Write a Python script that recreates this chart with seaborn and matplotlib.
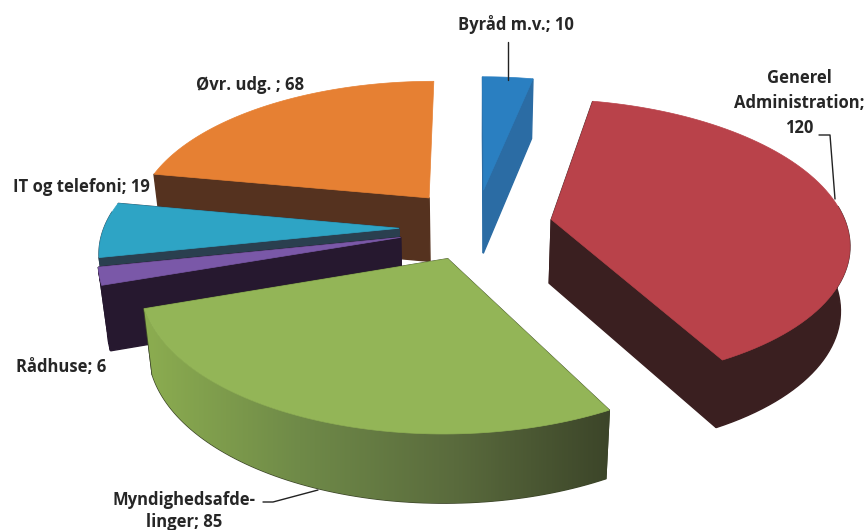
import numpy as np
import seaborn as sns
import matplotlib.pyplot as plt
from matplotlib.colors import LinearSegmentedColormap
from matplotlib.patches import Polygon

sns.set_theme(style='white')
plt.rcParams['font.family'] = ['Open Sans', 'DejaVu Sans']

# budget shares, clockwise from the top of the pie
names = ['Byråd m.v.', 'Generel Administration', 'Myndighedsafdelinger',
         'Rådhuse', 'IT og telefoni', 'Øvr. udg.']
values = [10, 120, 85, 6, 19, 68]

# look of each slice
top_colors = ['#2a7fc1', '#b9424a', '#93b557', '#7a58a8', '#2ea4c5', '#e68033']
side_colors = ['#2b6ca4', '#3a1f20', '#3c4529', '#26182f', '#2a3f4f', '#55321f']
explode = [0.26, 0.28, 0.20, 0.20, 0.20, 0.20]
nudge_x = [8, 2, 2, -10, -10, -2]
nudge_y = [-3, -3, 4, 2, 0, -9]
draw_order = [5, 0, 4, 3, 1, 2]

# fake 3d camera (pixels)
CX, CY = 468, 228
RX, RY = 295, 140
PERSP = 0.15
DEPTH = 64
DROP_SHRINK = 0.025

fracs = np.array(values) / sum(values)
edges = np.concatenate([[0], np.cumsum(fracs)]) * 2 * np.pi


def project(i, u, v, drop=0):
    w = 1 + PERSP * v
    x = CX + RX * u / w * (1 - DROP_SHRINK * drop) + nudge_x[i]
    y = CY - RY * v / w + drop * DEPTH / w ** 0.4 + nudge_y[i]
    return x, y


def slice_points(i, n=80):
    mid = (edges[i] + edges[i + 1]) / 2
    au, av = explode[i] * np.sin(mid), explode[i] * np.cos(mid)
    t = np.linspace(edges[i], edges[i + 1], n)
    return au, av, au + np.sin(t), av + np.cos(t), t


fig, ax = plt.subplots(figsize=(8.68, 5.30), dpi=100)
fig.subplots_adjust(0, 0, 1, 1)
ax.set_xlim(0, 868)
ax.set_ylim(530, 0)
ax.axis('off')

# green side has a shine running left to right
green_side = sns.blend_palette(['#8cad50', '#6f8a48', '#5a6b3d', '#3c4529'], 64)
green_cmap = LinearSegmentedColormap.from_list('green_side', green_side)

z = 1
for i in draw_order:
    au, av, ru, rv, t = slice_points(i)
    # cut faces first
    for k in [0, -1]:
        # back cut of the orange slice faces away from us
        if i == 5 and k == -1:
            continue
        face = [project(i, au, av), project(i, ru[k], rv[k]),
                project(i, ru[k], rv[k], 1), project(i, au, av, 1)]
        ax.add_patch(Polygon(face, color=side_colors[i], lw=1, zorder=z))
    # round outer wall, only the part facing the viewer
    front = np.cos(t) < 0.12
    if front.any():
        upper = [project(i, a, b) for a, b in zip(ru[front], rv[front])]
        lower = [project(i, a, b, 1) for a, b in zip(ru[front], rv[front])]
        wall = Polygon(upper + lower[::-1], color=side_colors[i], lw=1, zorder=z + 1)
        ax.add_patch(wall)
        if i == 2:
            xs = [p[0] for p in upper + lower]
            ys = [p[1] for p in upper + lower]
            img = ax.imshow(np.linspace(0, 1, 256).reshape(1, -1), cmap=green_cmap,
                            extent=[min(xs), max(xs), max(ys), min(ys)],
                            aspect='auto', zorder=z + 1.5)
            img.set_clip_path(wall)
    # top
    top = [project(i, au, av)] + [project(i, a, b) for a, b in zip(ru, rv)]
    ax.add_patch(Polygon(top, color=top_colors[i], lw=0.5, zorder=z + 2))
    z += 3
ax.set_xlim(0, 868)
ax.set_ylim(530, 0)

# leader lines
ax.plot([508, 508], [42, 80], color='#222222', lw=1, zorder=z)
ax.plot([819, 830, 835], [135, 135, 199], color='#222222', lw=1, zorder=z)
ax.plot([263, 273, 318], [502, 502, 490], color='#222222', lw=1, zorder=z)

txt = dict(fontsize=12, fontweight='bold', color='#262626', ha='center', va='center')
ax.text(516, 25, f'{names[0]}; {values[0]}', **txt)
ax.text(799, 103, f'Generel\nAdministration;\n{values[1]}', linespacing=1.47, **txt)
ax.text(184, 511, f'Myndighedsafde-\nlinger; {values[2]}', linespacing=1.33, **txt)
ax.text(61, 367, f'{names[3]}; {values[3]}', **txt)
ax.text(81, 187, f'{names[4]}; {values[4]}', **txt)
ax.text(250, 85, f'{names[5]} ; {values[5]}', **txt)

fig.savefig('out.png', dpi=100)
